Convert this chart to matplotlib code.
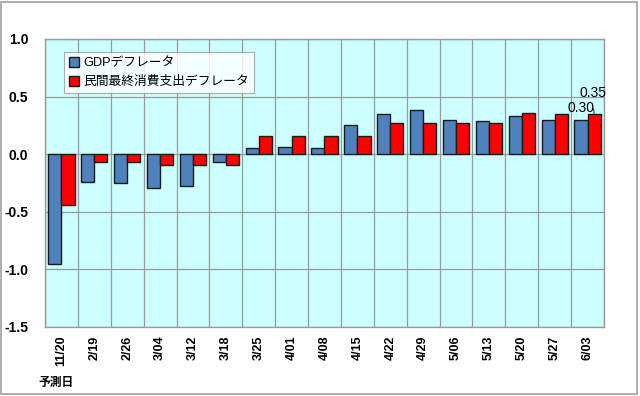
import matplotlib
matplotlib.use("Agg")
import matplotlib.pyplot as plt
import numpy as np

plt.rcParams['font.family'] = ['Liberation Sans', 'Noto Sans CJK JP', 'DejaVu Sans']

# 予測日
dates = ["11/20", "2/19", "2/26", "3/04", "3/12", "3/18", "3/25", "4/01", "4/08",
         "4/15", "4/22", "4/29", "5/06", "5/13", "5/20", "5/27", "6/03"]
gdp = [-0.95, -0.24, -0.25, -0.29, -0.28, -0.07, 0.05, 0.06, 0.05,
       0.25, 0.35, 0.38, 0.30, 0.29, 0.33, 0.30, 0.30]
pce = [-0.44, -0.07, -0.07, -0.09, -0.09, -0.09, 0.16, 0.16, 0.16,
       0.16, 0.27, 0.27, 0.27, 0.27, 0.36, 0.35, 0.35]
yticks = [1.0, 0.5, 0.0, -0.5, -1.0, -1.5]

fig = plt.figure(figsize=(6.4, 3.96), dpi=100)
fig.patches.append(plt.Rectangle((0.002, 0.004), 0.994, 0.99, transform=fig.transFigure,
                                 fill=False, edgecolor="#a0a0a0", lw=1.2))
ax = fig.add_axes([45/640, 1-327/396, (604-45)/640, (327-39)/396])
ax.set_facecolor("#ccffff")

x = np.arange(len(dates))
w = 0.4
ax.bar(x - w/2, gdp, w, color="#4f81bd", edgecolor="#1a1a1a", lw=1.0,
       label="GDPデフレータ", zorder=3)
ax.bar(x + w/2, pce, w, color="#ff0000", edgecolor="#1a1a1a", lw=1.0,
       label="民間最終消費支出デフレータ", zorder=3)

ax.set_xlim(-0.5, len(dates) - 0.5)
ax.set_ylim(-1.5, 1.0)
ax.set_yticks(yticks)
ax.set_yticklabels([f"{v:.1f}" for v in yticks], fontweight="bold", fontsize=10)
ax.set_xticks(x)
ax.set_xticklabels(dates, rotation=90, fontweight="bold", fontsize=9)
ax.set_xticks(np.arange(len(dates) + 1) - 0.5, minor=True)
ax.tick_params(axis="both", which="both", length=0)
ax.tick_params(axis="y", pad=12)
ax.tick_params(axis="x", pad=6)
ax.grid(True, which="minor", axis="x", color="#999999", lw=0.9, zorder=0)
ax.grid(True, which="major", axis="y", color="#999999", lw=0.9, zorder=0)
for s in ax.spines.values():
    s.set_color("#999999")
    s.set_linewidth(1.0)

# data labels on last bars
ax.annotate(f"{gdp[-1]:.2f}", xy=(x[-1] - w/2, gdp[-1]), xytext=(568, 396-108),
            textcoords="figure pixels", fontsize=10, va="center", ha="left")
ax.annotate(f"{pce[-1]:.2f}", xy=(x[-1] + w/2, pce[-1]), xytext=(579, 396-93),
            textcoords="figure pixels", fontsize=10, va="center", ha="left",
            arrowprops=dict(arrowstyle="-", color="black", lw=0.6,
                            shrinkA=4, shrinkB=0))

leg = ax.legend(loc="upper left", bbox_to_anchor=(0.034, 0.955), borderaxespad=0,
                fontsize=9.2, frameon=True, fancybox=False, handlelength=0.8,
                handleheight=0.8, handletextpad=0.3, borderpad=0.4, labelspacing=0.5)
leg.get_frame().set_edgecolor("#999999")
leg.get_frame().set_linewidth(0.8)

fig.text(38/640, 1-383/396, "予測日", fontsize=8.5, fontweight="bold", va="center")

fig.savefig("out.png", dpi=100)
